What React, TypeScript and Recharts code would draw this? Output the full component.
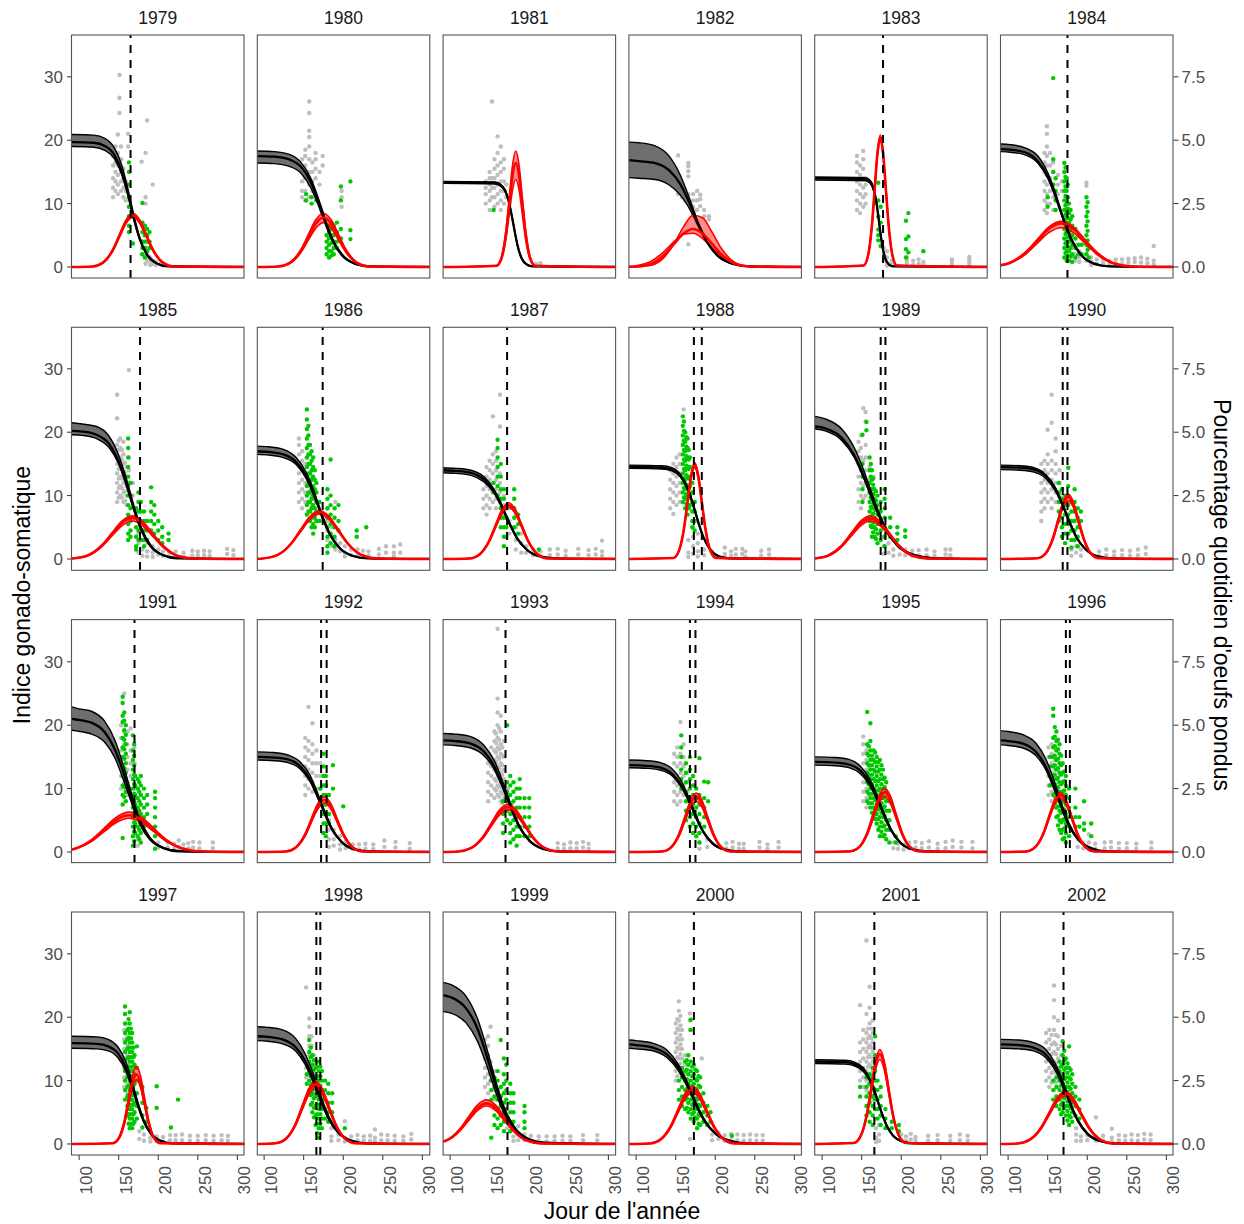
import React from 'react';
import { ComposedChart, XAxis, YAxis, Scatter, Line, Area, ReferenceLine } from 'recharts';

const FONT = "'Liberation Sans', Arial, Helvetica, sans-serif";

// ---------------- DATA ----------------
const years = ['1979','1980','1981','1982','1983','1984','1985','1986','1987','1988','1989','1990','1991','1992','1993','1994','1995','1996','1997','1998','1999','2000','2001','2002'];

const xTicks = [100, 150, 200, 250, 300];
const leftTicks = [0, 10, 20, 30];
const rightTicks = [0, 2.5, 5, 7.5];

// black curve (GSI): [day, lower, median, upper]
const blackBands: number[][][] = [
  [[91,19,19.7,20.9],[118.5,18.9,19.6,20.8],[132.5,18.4,19.1,20.3],[144.5,17.1,17.7,18.8],[153.8,14.6,15.1,16.1],[160.4,11.8,12.3,13],[165,9.5,9.9,10.5],[169.7,7.2,7.4,7.9],[176.2,4.4,4.6,4.8],[185.5,1.9,2,2.1],[197.6,0.6,0.6,0.6],[211.5,0.1,0.1,0.1],[309,0,0,0]],
  [[91,16.4,17.5,18.3],[113,16.3,17.4,18.2],[131,15.9,17,17.8],[146.6,14.8,15.8,16.5],[158.6,12.6,13.5,14.1],[167,10.2,10.9,11.4],[173,8.2,8.8,9.2],[179,6.2,6.6,6.9],[187.4,3.8,4,4.2],[199.4,1.6,1.8,1.8],[215,0.5,0.5,0.5],[233,0.1,0.1,0.1],[309,0,0,0]],
  [[91,13.2,13.4,13.5],[156,13.1,13.3,13.4],[163.2,12.8,13,13.1],[169.4,11.9,12.1,12.2],[174.2,10.2,10.3,10.4],[177.6,8.2,8.3,8.4],[180,6.6,6.7,6.8],[182.4,5,5.1,5.1],[185.8,3,3.1,3.1],[190.6,1.3,1.3,1.4],[196.8,0.4,0.4,0.4],[204,0.1,0.1,0.1],[309,0,0,0]],
  [[91,14.1,16.85,19.7],[103,14,16.7,19.6],[124,13.8,16.4,19.1],[142.2,12.9,15.2,17.4],[156.2,11.3,13,14.4],[166,9.5,10.5,11.3],[173,7.8,8.4,8.9],[180,6,6.4,6.5],[189.8,3.8,3.9,3.9],[203.8,1.7,1.7,1.6],[222,0.5,0.5,0.5],[243,0.1,0.1,0.1],[309,0,0,0]],
  [[91,13.7,14,14.2],[154.5,13.6,13.9,14.1],[159.8,13.3,13.6,13.8],[164.3,12.3,12.6,12.8],[167.8,10.5,10.8,10.9],[170.3,8.5,8.7,8.8],[172,6.9,7,7.1],[173.8,5.2,5.3,5.4],[176.2,3.2,3.2,3.3],[179.7,1.4,1.4,1.4],[184.3,0.4,0.4,0.4],[189.5,0.1,0.1,0.1],[309,0,0,0]],
  [[91,18.2,18.6,19.4],[102.5,18.1,18.5,19.3],[121.3,17.7,18.1,18.8],[137.5,16.4,16.7,17.5],[150,14,14.3,14.9],[158.8,11.3,11.6,12.1],[165,9.1,9.3,9.7],[171.3,6.9,7,7.3],[180,4.2,4.3,4.5],[192.5,1.8,1.9,1.9],[208.8,0.5,0.5,0.6],[227.5,0.1,0.1,0.1],[309,0,0,0]],
  [[91,19.6,20.2,21.5],[104,19.5,20.1,21.3],[122,19,19.6,20.9],[137.6,17.6,18.2,19.4],[149.6,15.1,15.5,16.5],[158,12.2,12.6,13.4],[164,9.8,10.1,10.8],[170,7.4,7.6,8.1],[178.4,4.5,4.7,5],[190.4,2,2,2.2],[206,0.6,0.6,0.6],[224,0.1,0.1,0.2],[309,0,0,0]],
  [[91,16.5,17,17.8],[105.5,16.4,16.9,17.7],[124.3,16,16.5,17.3],[140.5,14.9,15.3,16],[153,12.7,13.1,13.7],[161.8,10.3,10.6,11.1],[168,8.3,8.5,8.9],[174.3,6.2,6.4,6.7],[183,3.8,3.9,4.1],[195.5,1.7,1.7,1.8],[211.8,0.5,0.5,0.5],[230.5,0.1,0.1,0.1],[309,0,0,0]],
  [[91,13.6,14,14.4],[107.5,13.5,13.9,14.3],[126.3,13.2,13.6,14],[142.5,12.2,12.6,13],[155,10.5,10.8,11.1],[163.8,8.5,8.7,9],[170,6.8,7,7.2],[176.3,5.1,5.3,5.4],[185,3.1,3.2,3.3],[197.5,1.4,1.4,1.4],[213.8,0.4,0.4,0.4],[232.5,0.1,0.1,0.1],[309,0,0,0]],
  [[91,14.3,14.55,14.8],[132.5,14.2,14.4,14.7],[145.3,13.9,14.1,14.4],[156.3,12.9,13.1,13.3],[164.8,11,11.2,11.4],[170.8,8.9,9.1,9.2],[175,7.2,7.3,7.4],[179.3,5.4,5.5,5.6],[185.2,3.3,3.4,3.4],[193.7,1.4,1.5,1.5],[204.8,0.4,0.4,0.4],[217.5,0.1,0.1,0.1],[309,0,0,0]],
  [[91,20.5,20.9,22.5],[104,20.2,20.6,22.1],[124.8,18.7,19.1,20.5],[140.8,16,16.3,17.5],[152,12.9,13.2,14.2],[160,10.4,10.6,11.4],[168,7.9,8,8.6],[179.2,4.8,4.9,5.3],[195.2,2.1,2.1,2.3],[216,0.6,0.6,0.7],[240,0.1,0.1,0.2],[309,0,0,0]],
  [[91,14.1,14.5,14.8],[115.5,14,14.4,14.7],[132.8,13.7,14.1,14.4],[147.7,12.7,13.1,13.3],[159.2,10.8,11.2,11.4],[167.3,8.8,9,9.2],[173,7.1,7.3,7.4],[178.8,5.3,5.5,5.6],[186.8,3.3,3.3,3.4],[198.3,1.4,1.5,1.5],[213.3,0.4,0.4,0.4],[230.5,0.1,0.1,0.1],[309,0,0,0]],
  [[91,19.2,21,22.9],[96,19.1,20.9,22.7],[115.5,18.6,20.4,22.2],[132.4,17.3,18.9,20.6],[145.4,14.8,16.1,17.6],[154.5,11.9,13.1,14.2],[161,9.6,10.5,11.5],[167.5,7.3,7.9,8.7],[176.6,4.4,4.9,5.3],[189.6,1.9,2.1,2.3],[206.5,0.6,0.6,0.7],[226,0.1,0.1,0.2],[309,0,0,0]],
  [[91,14.5,15,15.8],[112,14.4,14.9,15.7],[130,14.1,14.6,15.3],[145.6,13.1,13.5,14.2],[157.6,11.2,11.5,12.2],[166,9,9.3,9.8],[172,7.3,7.5,7.9],[178,5.5,5.7,6],[186.4,3.3,3.5,3.6],[198.4,1.5,1.5,1.6],[214,0.4,0.4,0.5],[232,0.1,0.1,0.1],[309,0,0,0]],
  [[91,16.9,17.6,18.7],[106.5,16.8,17.5,18.6],[126,16.4,17.1,18.2],[142.9,15.2,15.8,16.8],[155.9,13,13.5,14.4],[165,10.5,10.9,11.6],[171.5,8.5,8.8,9.4],[178,6.4,6.7,7.1],[187.1,3.9,4.1,4.3],[200.1,1.7,1.8,1.9],[217,0.5,0.5,0.5],[236.5,0.1,0.1,0.1],[309,0,0,0]],
  [[91,13.3,13.7,14.5],[113.5,13.2,13.6,14.4],[130.8,12.9,13.3,14.1],[145.7,12,12.3,13.1],[157.2,10.2,10.5,11.2],[165.3,8.3,8.5,9],[171,6.7,6.9,7.3],[176.8,5,5.2,5.5],[184.8,3.1,3.2,3.3],[196.3,1.3,1.4,1.5],[211.3,0.4,0.4,0.4],[228.5,0.1,0.1,0.1],[309,0,0,0]],
  [[91,13.7,14.2,15],[116.5,13.6,14.1,14.9],[133.8,13.3,13.8,14.6],[148.7,12.3,12.8,13.5],[160.2,10.5,10.9,11.5],[168.3,8.5,8.8,9.3],[174,6.9,7.1,7.5],[179.8,5.2,5.4,5.7],[187.8,3.2,3.3,3.5],[199.3,1.4,1.4,1.5],[214.3,0.4,0.4,0.4],[231.5,0.1,0.1,0.1],[309,0,0,0]],
  [[91,16.9,17.6,19.1],[100,16.8,17.5,19],[118.8,16.4,17.1,18.5],[135,15.2,15.8,17.2],[147.5,13,13.5,14.7],[156.3,10.5,10.9,11.9],[162.5,8.5,8.8,9.6],[168.8,6.4,6.7,7.2],[177.5,3.9,4.1,4.4],[190,1.7,1.8,1.9],[206.3,0.5,0.5,0.6],[225,0.1,0.1,0.1],[309,0,0,0]],
  [[91,15.1,15.9,17],[122.5,15,15.8,16.9],[136.8,14.7,15.4,16.5],[149.1,13.6,14.3,15.3],[158.6,11.6,12.2,13.1],[165.3,9.4,9.9,10.6],[170,7.6,8,8.5],[174.8,5.7,6,6.4],[181.4,3.5,3.7,3.9],[190.9,1.5,1.6,1.7],[203.3,0.4,0.5,0.5],[217.5,0.1,0.1,0.1],[309,0,0,0]],
  [[91,16.3,17,18.5],[104.5,16.2,16.9,18.4],[123.3,15.8,16.5,18],[139.5,14.7,15.3,16.7],[152,12.5,13.1,14.2],[160.8,10.1,10.6,11.5],[167,8.2,8.5,9.3],[173.3,6.2,6.4,7],[182,3.8,3.9,4.3],[194.5,1.6,1.7,1.9],[210.8,0.5,0.5,0.5],[229.5,0.1,0.1,0.1],[309,0,0,0]],
  [[91,20.9,23.5,25.5],[102,20.6,23.1,25.1],[120.2,19.1,21.4,23.3],[134.2,16.3,18.3,19.9],[144,13.2,14.8,16.1],[151,10.6,11.9,13],[158,8,9,9.8],[167.8,4.9,5.5,6],[181.8,2.1,2.4,2.6],[200,0.6,0.7,0.8],[221,0.1,0.2,0.2],[309,0,0,0]],
  [[91,15.1,15.7,16.4],[100,15,15.6,16.3],[121,14.7,15.2,15.9],[139.2,13.6,14.1,14.8],[153.2,11.6,12.1,12.6],[163,9.4,9.8,10.2],[170,7.6,7.9,8.2],[177,5.7,5.9,6.2],[186.8,3.5,3.6,3.8],[200.8,1.5,1.6,1.6],[219,0.4,0.5,0.5],[240,0.1,0.1,0.1],[309,0,0,0]],
  [[91,12.7,13,13.3],[128.5,12.6,12.9,13.2],[141.3,12.3,12.6,12.9],[152.3,11.4,11.7,12],[160.8,9.8,10,10.2],[166.8,7.9,8.1,8.3],[171,6.4,6.5,6.7],[175.3,4.8,4.9,5],[181.2,2.9,3,3.1],[189.7,1.3,1.3,1.3],[200.8,0.4,0.4,0.4],[213.5,0.1,0.1,0.1],[309,0,0,0]],
  [[91,15.1,15.7,16.5],[114,15,15.6,16.4],[132,14.7,15.2,16],[147.6,13.6,14.1,14.9],[159.6,11.6,12.1,12.7],[168,9.4,9.8,10.3],[174,7.6,7.9,8.3],[180,5.7,5.9,6.2],[188.4,3.5,3.6,3.8],[200.4,1.5,1.6,1.7],[216,0.4,0.5,0.5],[234,0.1,0.1,0.1],[309,0,0,0]],
];

// red curve (daily % of eggs laid, right axis): [day, lower, median, upper]
const redBands: number[][][] = [
  [[91,0,0,0],[117,.02,.02,.02],[130.6,.17,.18,.19],[142.5,.63,.66,.69],[151,1.18,1.23,1.29],[159.5,1.72,1.79,1.87],[168,1.95,2.03,2.12],[176.5,1.72,1.79,1.87],[185,1.18,1.23,1.29],[193.5,.63,.66,.69],[205.4,.17,.18,.19],[219,.02,.02,.02],[309,0,0,0]],
  [[91,0,0,0],[118,.02,.02,.02],[133.2,.16,.17,.19],[146.5,.57,.63,.69],[156,1.06,1.18,1.29],[165.5,1.54,1.72,1.87],[175,1.75,1.95,2.12],[184.5,1.54,1.72,1.87],[194,1.06,1.18,1.29],[203.5,.57,.63,.69],[216.8,.16,.17,.19],[232,.02,.02,.02],[309,0,0,0]],
  [[91,0,0,0],[158.4,.04,.05,.05],[165,.31,.36,.41],[170.7,1.12,1.33,1.49],[174.8,2.09,2.49,2.77],[178.9,3.04,3.62,4.03],[183,3.45,4.1,4.57],[187.1,3.04,3.62,4.03],[191.2,2.09,2.49,2.77],[195.3,1.12,1.33,1.49],[201,.31,.36,.41],[207.6,.04,.05,.05],[309,0,0,0]],
  [[91,.02,.01,0],[100,.05,.02,.01],[119.2,.23,.13,.07],[136,.63,.49,.4],[148,1,.91,.92],[160,1.29,1.32,1.59],[172,1.33,1.5,2.04],[184,1.12,1.32,1.94],[196,.76,.91,1.37],[208,.41,.49,.72],[224.8,.12,.13,.18],[244,.02,.02,.02],[309,0,0,0]],
  [[91,0,0,0],[152.5,.06,.06,.06],[158.1,.45,.45,.46],[163,1.63,1.66,1.69],[166.5,3.04,3.1,3.16],[170,4.41,4.5,4.59],[173.5,5,5.1,5.2],[177,4.41,4.5,4.59],[180.5,3.04,3.1,3.16],[184,1.63,1.66,1.69],[188.9,.45,.45,.46],[194.5,.06,.06,.06],[309,0,0,0]],
  [[91,.06,.07,.07],[101,.14,.15,.16],[122,.5,.56,.59],[137,.94,1.04,1.09],[152,1.37,1.52,1.59],[167,1.55,1.72,1.8],[182,1.37,1.52,1.59],[197,.94,1.04,1.09],[212,.5,.56,.59],[233,.14,.15,.16],[257,.02,.02,.02],[309,0,0,0]],
  [[91,.02,.02,.02],[110.9,.13,.14,.15],[128.8,.49,.53,.55],[141.5,.91,.98,1.03],[154.3,1.32,1.43,1.5],[167,1.5,1.62,1.7],[179.8,1.32,1.43,1.5],[192.5,.91,.98,1.03],[205.3,.49,.53,.55],[223.1,.13,.14,.15],[243.5,.02,.02,.02],[309,0,0,0]],
  [[91,.01,.01,.01],[98,.02,.02,.02],[117.2,.16,.16,.17],[134,.58,.6,.62],[146,1.07,1.12,1.15],[158,1.56,1.63,1.68],[170,1.77,1.85,1.9],[182,1.56,1.63,1.68],[194,1.07,1.12,1.15],[206,.58,.6,.62],[222.8,.16,.16,.17],[242,.02,.02,.02],[309,0,0,0]],
  [[91,0,0,0],[124.2,.02,.02,.02],[137.5,.18,.19,.2],[149.1,.66,.69,.72],[157.4,1.23,1.29,1.35],[165.7,1.79,1.87,1.96],[174,2.03,2.12,2.22],[182.3,1.79,1.87,1.96],[190.6,1.23,1.29,1.35],[198.9,.66,.69,.72],[210.5,.18,.19,.2],[223.8,.02,.02,.02],[309,0,0,0]],
  [[91,0,0,0],[147,.04,.04,.04],[154.2,.32,.33,.34],[160.5,1.17,1.2,1.24],[165,2.19,2.25,2.31],[169.5,3.18,3.26,3.35],[174,3.6,3.7,3.8],[178.5,3.18,3.26,3.35],[183,2.19,2.25,2.31],[187.5,1.17,1.2,1.24],[193.8,.32,.33,.34],[201,.04,.04,.04],[309,0,0,0]],
  [[91,.02,.02,.02],[108.2,.13,.14,.15],[125,.49,.52,.55],[137,.91,.97,1.03],[149,1.32,1.41,1.5],[161,1.5,1.6,1.7],[173,1.32,1.41,1.5],[185,.91,.97,1.03],[197,.49,.52,.55],[213.8,.13,.14,.15],[233,.02,.02,.02],[309,0,0,0]],
  [[91,0,0,0],[137,.03,.03,.03],[147.4,.2,.22,.23],[156.5,.75,.8,.83],[163,1.4,1.49,1.55],[169.5,2.03,2.16,2.25],[176,2.3,2.45,2.55],[182.5,2.03,2.16,2.25],[189,1.4,1.49,1.55],[195.5,.75,.8,.83],[204.6,.2,.22,.23],[215,.03,.03,.03],[309,0,0,0]],
  [[91,.09,.1,.11],[94.8,.12,.13,.14],[116.5,.43,.47,.51],[132,.81,.88,.95],[147.5,1.17,1.28,1.38],[163,1.33,1.45,1.57],[178.5,1.17,1.28,1.38],[194,.81,.88,.95],[209.5,.43,.47,.51],[231.2,.12,.13,.14],[256,.01,.02,.02],[309,0,0,0]],
  [[91,0,0,0],[127.1,.02,.02,.02],[140.1,.17,.18,.19],[151.6,.62,.67,.71],[159.7,1.17,1.24,1.32],[167.9,1.69,1.81,1.92],[176,1.92,2.05,2.18],[184.2,1.69,1.81,1.92],[192.3,1.17,1.24,1.32],[200.5,.62,.67,.71],[211.9,.17,.18,.19],[224.9,.02,.02,.02],[309,0,0,0]],
  [[91,0,0,0],[110,.02,.02,.02],[126.8,.15,.16,.17],[141.5,.54,.58,.61],[152,1.01,1.08,1.14],[162.5,1.46,1.57,1.66],[173,1.66,1.78,1.88],[183.5,1.46,1.57,1.66],[194,1.01,1.08,1.14],[204.5,.54,.58,.61],[219.2,.15,.16,.17],[236,.02,.02,.02],[309,0,0,0]],
  [[91,0,0,0],[133.1,.02,.02,.03],[144.5,.18,.19,.21],[154.6,.65,.71,.75],[161.7,1.21,1.32,1.41],[168.9,1.76,1.92,2.05],[176,2,2.18,2.32],[183.2,1.76,1.92,2.05],[190.3,1.21,1.32,1.41],[197.5,.65,.71,.75],[207.5,.18,.19,.21],[218.9,.02,.02,.03],[309,0,0,0]],
  [[91,0,0,0],[135.8,.02,.03,.03],[147.3,.19,.21,.22],[157.4,.71,.76,.82],[164.6,1.32,1.43,1.52],[171.8,1.92,2.07,2.21],[179,2.18,2.35,2.51],[186.2,1.92,2.07,2.21],[193.4,1.32,1.43,1.52],[200.6,.71,.76,.82],[210.7,.19,.21,.22],[222.2,.02,.03,.03],[309,0,0,0]],
  [[91,0,0,0],[123.1,.02,.02,.03],[134.5,.19,.2,.21],[144.6,.69,.73,.76],[151.7,1.29,1.37,1.43],[158.9,1.87,1.98,2.07],[166,2.12,2.25,2.35],[173.2,1.87,1.98,2.07],[180.3,1.29,1.37,1.43],[187.5,.69,.73,.76],[197.5,.19,.2,.21],[208.9,.02,.02,.03],[309,0,0,0]],
  [[91,0,0,0],[142.5,.03,.03,.03],[150.5,.23,.24,.27],[157.5,.83,.89,.99],[162.5,1.54,1.66,1.86],[167.5,2.24,2.42,2.7],[172.5,2.54,2.74,3.06],[177.5,2.24,2.42,2.7],[182.5,1.54,1.66,1.86],[187.5,.83,.89,.99],[194.5,.23,.24,.27],[202.5,.03,.03,.03],[309,0,0,0]],
  [[91,0,0,0],[114,.02,.03,.03],[127.6,.2,.21,.22],[139.5,.72,.76,.8],[148,1.34,1.43,1.5],[156.5,1.94,2.07,2.18],[165,2.2,2.35,2.47],[173.5,1.94,2.07,2.18],[182,1.34,1.43,1.5],[190.5,.72,.76,.8],[202.4,.2,.21,.22],[216,.02,.03,.03],[309,0,0,0]],
  [[91,.09,.09,.1],[95.4,.13,.14,.15],[111.5,.49,.52,.57],[123,.91,.97,1.06],[134.5,1.32,1.41,1.53],[146,1.5,1.6,1.74],[157.5,1.32,1.41,1.53],[169,.91,.97,1.06],[180.5,.49,.52,.57],[196.6,.13,.14,.15],[215,.02,.02,.02],[309,0,0,0]],
  [[91,0,0,0],[117,.02,.02,.03],[131.4,.18,.19,.2],[144,.66,.7,.74],[153,1.23,1.31,1.38],[162,1.78,1.9,2.01],[171,2.02,2.15,2.28],[180,1.78,1.9,2.01],[189,1.23,1.31,1.38],[198,.66,.7,.74],[210.6,.18,.19,.2],[225,.02,.02,.03],[309,0,0,0]],
  [[91,0,0,0],[140,.04,.04,.04],[148.8,.3,.32,.33],[156.5,1.08,1.15,1.21],[162,2.02,2.15,2.26],[167.5,2.93,3.13,3.28],[173,3.32,3.55,3.72],[178.5,2.93,3.13,3.28],[184,2.02,2.15,2.26],[189.5,1.08,1.15,1.21],[197.2,.3,.32,.33],[206,.04,.04,.04],[309,0,0,0]],
  [[91,0,0,0],[112,.02,.02,.02],[128,.17,.18,.19],[142,.61,.65,.68],[152,1.14,1.21,1.26],[162,1.66,1.76,1.83],[172,1.88,2,2.08],[182,1.66,1.76,1.83],[192,1.14,1.21,1.26],[202,.61,.65,.68],[216,.17,.18,.19],[232,.02,.02,.02],[309,0,0,0]],
];

// gray observations: each entry [day, gsi values...]
const grayObs: number[][][] = [
  [[143,11,12.5,14,16,17.5],[146,12,13.5,15,16.5,19],[149,11.5,13,14.5,16,18,20.9],[151,24.3,26.7,30.3],[153,12,13.5,15,17,19],[156,11,12.5,14,15.5],[159,10.5,12,13.5],[162,19,21],[179,16.6,4,2],[184,18,11,10,3,1.5,0.5],[186,23.1,2,1],[190,1.5,0.8,0.3],[193,13,1,0.5],[197,0.8,0.3],[203,0.5]],
  [[148,11,12,13.5,15,17],[152,10.5,12,14,16,17.5,18.5],[157,11,13,15,17,19,20.5,21.5,24.3,26.1],[161,12,13.5,15,16.5],[165,14,15.5,17,18],[170,13,15],[174,16,17.5],[198,9.5,11,12]],
  [[145,10,11.5,12.5,13.5],[150,9,10.5,12,13,14,15],[153,11,12.5,14,26.1],[156,9.5,11,12.5,14,15.5,17],[160,10,11.5,13,14.5,16,18,20.6],[164,9,10.5,12,13.5,15,16.5,19],[168,10,12,13.5,15.5,17],[171,11,13],[208,0.5,0.2],[214,0.6,0.3]],
  [[153,17.6,12.5,11.5],[158,11,12,13],[162,10.5,12.2],[166,16.4,15.9,15.1,14.3,11.5,10.5,3.6],[172,11.5,9.5,10.5],[177,12,10.5,9],[181,11.4,10.7,9.6],[186,9,8],[192,8,7.5]],
  [[144,9,10.5,12,13.5,15,16.5,17.5],[148,8.5,10,11.5,13,14.5,16],[152,9.5,11,12.5,14,15.5,17,18.3],[155,10,11.5,13,14],[178,1,2,3],[182,0.5,1.5,2.5,0.2],[188,0.5,1],[207,0.5,1,1.5],[215,0.3,1],[222,0.5,1.2],[228,0.3,0.8],[264,0.3,0.8,1.2],[286,0.2,0.7,1.2,1.6]],
  [[146,9,10.5,12,13.5,15,16.5,18],[149,8.5,10,11.5,13,14.5,16,17.5,19,21,22.2],[153,10,12,14,16,18],[157,9,11,13,15,16.5],[163,11.5,13,14.5],[168,12,13.5],[174,11,12.5,14],[180,5,3,1.5],[185,3.5,2,1],[190,2.5,1.5,0.8],[199,13.3,12.8,2,1],[205,1.5,0.8,0.3],[212,1.2,0.5],[220,1.2,0.6],[228,1,0.4],[236,1.2,0.6],[244,1.2,0.5],[252,1.3,0.7],[260,1.4,0.8],[268,1.5,0.7],[276,1.3,0.6],[284,3.3,1,0.4]],
  [[148,9,10.5,12,13.5,15,16.5,18,22.2,25.9],[150,9.7,11.2,12.7,14.2,15.7,17.2,18.7],[152,10,11.5,13,14.5,16,17.5,19],[154,9.7,11.2,12.7,14.2,15.7,17.2],[156,9,10.5,12,13.5,15,16.5,18.5],[158,9.2,10.7,12.2,13.7,15.2],[160,8.5,10,11.5,13,14.5],[163,12,14,16,29.8],[168,10,12],[175,4,2.5,1],[180,3,1.5,0.5],[186,2.5,1.2,0.4],[193,2,1,0.3],[200,1.5,0.7],[206,1.2,0.5],[214,1,0.4],[222,1.2,0.5],[232,1,0.4],[243,1.3,0.5],[250,1.2,0.6],[258,1.3,0.6],[265,1.2,0.5],[287,1.6,0.8],[295,1.4,0.6]],
  [[144,9,10.5,12,13.5,15,16.5,18,19],[148,8,9.5,11,12.5,14,15.5,17],[152,9,10.5,12,13.5,15],[160,8.5,10,11.5,13],[166,9,10.5],[180,8,6,4.5,3],[186,5,3.5,2],[190,9,3,1.5],[196,2.5,1.2],[202,2,1,0.4],[210,1.5,0.6],[218,1.5,0.5],[225,1.3,0.5],[232,1.2,0.5],[245,1.6,0.7],[254,2,1],[264,2,1,0.4],[272,2.3,1]],
  [[142,8,9.5,11,12.5],[146,7,8.5,10,11.5,13,14.5],[150,8,9.5,11,12.5,14,15.5],[154,9,10.5,12,13.5,15,16.5,22.5],[158,8,9.5,11,12.5,14,15.5,17],[163,9,10.5,12,13.5,20.9,25.9],[168,7,8.5,10],[175,8,6,4],[183,7,5,3,1.5],[190,4,2.5,1],[196,2,1],[205,1.5,0.6],[214,1.2,0.5],[226,1.5,0.6],[236,1.6,0.7],[246,1.3,0.5],[262,1.6,0.7],[275,1.4,0.6],[284,1.6,0.7],[292,2.9,1.2,0.5]],
  [[143,8,9.5,11,12.5,14],[147,7.1,9,10.5,12,13.5,15],[151,8.5,10,11.5,13,14.5,16],[155,9,10.5,12,13.5,15,16.5],[160,23.6,18.5],[166,1,0.3,3],[172,5,3.5,2,0.8],[178,4,2.5,1.2,0.4],[186,1.5,0.6],[212,1.8,0.8,0.3],[220,1.2,0.5],[226,1.6,0.7],[234,1.6,0.8],[238,1.2,0.4],[258,1.3,0.5],[268,1.5,0.7]],
  [[146,9,11,13,15,17,18.5],[149,8,10,12,14,16,17.5,19.5],[152,9.5,11.5,13.5,15.5,23.8],[155,10,12,14,16,18,21.7,23.2],[160,10.5,12.5,14.5],[165,11,13],[178,5,3.5,2,0.8],[184,4,2.5,1],[190,3,1.5,0.5],[198,1.8,0.7],[205,1.5,0.6],[214,1.3,0.5],[222,1.4,0.6],[232,1.5,0.6],[242,1.2,0.5],[256,1.5,0.7],[262,1.5,0.6]],
  [[142,6,7.5,9,10.5,12,13.5,15],[146,8,9.5,11,12.5,14,15.5],[150,9,10.5,12,13.5,15,16.5,20.4],[155,8,9.5,11,12.5,14,15.5,21.5,25.9],[160,9,10.5,12,13.5,15,17,19],[165,10,12,14],[180,3,1.5,0.5],[186,2,1],[192,1.5,0.5],[215,1.2,0.5],[224,1.5,0.6],[234,1.2,0.5],[244,1.4,0.6],[254,1.3,0.5],[264,1.5,0.6],[274,1.8,0.8]],
  [[153,10,12,14,16,18,20],[157,11,13,15,17,19,25],[161,9,11,13,15,17,19],[165,10,12,14,16,19.5],[170,8,10,12,14,16.5],[174,2,1],[200,1.5,0.7],[212,1.5,0.7],[220,1.3,0.5],[226,1.8,0.8,0.3],[232,1.2,0.5],[238,1.4,0.6],[244,1.6,0.7],[252,1.5,0.6],[269,1.5,0.6]],
  [[152,9,10.5,12,13.5,15,16.5,18],[156,10,11.5,13,14.5,16,17.5,22.9],[161,9.5,11,12.5,14,15.5,17,20.3],[166,10,12,14,16],[171,8,10,12,14],[182,5,3.5,2,0.8],[188,3.5,2,1],[196,2.5,1.2,0.4],[203,1.6,0.6],[212,1.2,0.5],[220,1.2,0.4],[228,1.3,0.5],[238,1.2,0.5],[252,1.8,0.8],[266,1.6,0.7],[284,1.4,0.5]],
  [[148,8,9.5,11,12.5,14],[152,9,10.5,12,13.5,15,16.5],[156,8.5,10,11.5,13,14.5,16,17.5,19],[158,9.7,11.2,12.7,14.2,15.7,17.2,18.7],[160,9,10.5,12,13.5,15,16.5,18,20,22,24.2,35.2],[162,8.7,10.2,11.7,13.2,14.7,16.2,17.7,19.5],[164,8,9.5,11,12.5,14,15.5,17,19,21.5],[166,7.7,9.2,10.7,12.2,13.7,15.2,16.5],[168,7,8.5,10,11.5,13,15,17.5],[173,7,8.5,10],[178,6,7.5],[236,1.4,0.6],[244,1.2,0.5],[252,1.5,0.6],[260,1.4,0.6],[268,1.6,0.7],[275,1.3,0.5]],
  [[148,8,9.5,11,12.5,14,15.5],[152,7.5,9,10.5,12,13.5,15,16.5],[156,8,9.5,11,12.5,14,15.5,20.5],[160,9,10.5,12,13.5,15,17],[165,8,9.5,11,12.5],[170,6,7.5],[180,3,1.5,0.5],[190,2,0.8],[214,1.4,0.6],[222,1.6,0.7],[230,1.3,0.5],[236,1.3,0.5],[256,1.6,0.7],[266,1.2,0.5],[280,1.6,0.7]],
  [[152,8,9.5,11,12.5,14,15.5,17,18.2],[156,7,8.5,10,11.5,13,14.5,16],[160,9,10.5,12,13.5],[166,10,11.5],[190,1.5,0.6],[196,1.3,0.5],[203,1.2,0.4],[210,1.5,0.6],[218,1.6,0.7],[226,1.4,0.6],[235,1.7,0.7],[246,1.3,0.5],[256,1.6,0.6],[265,1.8,0.8],[276,1.6,0.7],[290,1.6,0.6]],
  [[151,9,10.5,12,13.5,15,16.5],[155,8,9.5,11,12.5,14,15.5,17],[159,7,8.5,10,11.5,13,14.5],[164,8,9.5,11],[170,5,6.5],[188,2,0.8],[195,1.5,0.6],[202,2.8,1.5,0.6],[210,1.3,0.5],[222,1.5,0.6],[230,1.6,0.7],[240,1.4,0.5],[250,1.4,0.6],[262,1.3,0.5],[281,1.5,0.6]],
  [[157,9,10.5,12,13.5,15,16.5,18],[161,8,9.5,11,12.5,14,15.5,17,19],[165,7,8.5,10,11.5,13],[170,8,9.5,11],[176,2,0.8],[182,1.5,0.5],[190,1,0.4],[198,1.2,0.5],[206,1.1,0.4],[215,1.4,0.6],[222,1.4,0.6],[230,1.5,0.6],[240,1.3,0.5],[250,1.3,0.5],[260,1.4,0.6],[270,1.3,0.5],[280,1.4,0.6],[288,1.3,0.5]],
  [[153,24.7,12,10.5],[157,19.8,18.5,17,15.5,14,12.5,11,9.5],[160,17,15.5,14,12.5,11,9.5,8],[163,14,12.5,11,9.5,8],[168,10,8.5],[185,2.5,1.2,0.5],[194,1.5,0.6],[202,3.6,1,0.4],[210,1.2,0.5],[218,1.4,0.6],[226,1.2,0.5],[234,1.3,0.5],[240,2.3,1,0.4],[248,1.5,0.6],[256,1.4,0.6],[265,1.3,0.5],[276,1.2,0.5],[286,1.6,0.7]],
  [[144,9,10.5,12,13.5,15,16.5],[148,8,9.5,11,12.5,14,15.5,17],[151,10,11.5,13,18.5],[156,7,8.5,10,11.5],[164,6,7.5,9],[172,4,2.5],[180,2.5,1.2,0.5],[186,2.8,1.5,0.6],[194,1.5,0.6],[202,1.3,0.5],[212,1.2,0.5],[222,1.2,0.4],[232,1.2,0.5],[242,1.3,0.5],[252,1.2,0.5],[268,1.4,0.6],[286,1.4,0.6]],
  [[150,10,11.5,13,14.5,16,17.5,19],[152,10.7,12.2,13.7,15.2,16.7,18.2,19.7],[154,12,13.5,15,16.5,18,19.5,21,22.5],[156,11.2,12.7,14.2,15.7,17.2,18.7,20.2],[158,10.5,12,13.5,15,16.5,18],[162,11,12.5,14],[168,18,19.5,20.6,0.8],[183,13.5],[196,1.5,0.6],[204,1.8,0.8],[212,1.4,0.5],[220,1.6,0.6],[228,1.5,0.6],[236,1.4,0.5],[244,1.5,0.6],[252,1.4,0.5],[260,1.4,0.5]],
  [[148,21.9,16,14.5,13,11.5,10],[152,9,10.5,12,13.5,15,16.5,18],[156,8.5,10,11.5,13,14.5,16,17.5,20.5,32.1],[158,9.2,10.7,12.2,13.7,15.2,16.7,18.2],[160,8,9.5,11,12.5,14,15.5,17,19,21.5,24.8],[162,7.7,9.2,10.7,12.2,13.7,15.2,16.7,18.2],[164,7,8.5,10,11.5,13,14.5,16,17.5,19.5],[168,4,2.5,1,0.3],[172,3,1.5,0.5],[200,1.5,0.6],[206,1.2,0.5],[212,1.6,0.7],[218,1.1,0.5],[234,1.3,0.5],[246,1.4,0.6],[262,1.3,0.5],[274,1.5,0.6],[284,1.3,0.5]],
  [[148,10,11.5,13,14.5,16,17.5],[152,9,10.5,12,13.5,15,16.5,18],[155,9.7,11.2,12.7,14.2,15.7,17.2],[158,8.5,10,11.5,13,14.5,16,18,20,22.7,25],[160.5,9.7,11.2,12.7,14.2,15.7,17.2],[163,9,10.5,12,13.5,15,17,19.5],[167,11,12.5,14,15.5],[186,1.5,0.5,2.5],[192,1.2,0.5],[200,1.4,0.6],[211,4.2,1.2,0.5],[220,1.3,0.5],[231,2.4,1,0.4],[240,1.4,0.6],[248,1.3,0.5],[256,1.5,0.6],[264,1.4,0.5],[272,1.6,0.7],[280,1.5,0.6]],
];

// green observations: each entry [day, gsi values...]
const greenObs: number[][][] = [
  [[163,16.5,15,13,11,9.5,8,6.5,5.5],[168,3.7],[180,10.1,7,5.5,4,3,2],[183,6.5,5,4,3,1.5],[186,6,5,4,2.5],[189,5.5,4,3]],
  [[153,11.5,10.5],[160,10,11],[166,10.5],[179,5,4,3,2],[182,6.5,5.5,4.5,3.5,2.5,1.5],[185,7,6,5,3.8,2.5,1.8],[188,6.5,5,4,3,2],[192,7,5.5,4,3],[197,10.5,12.7,6,4.5],[209,13.5,5.8,4.4]],
  [[155,9]],
  [],
  [[171,13.3,10.5,8,5.9,5,4.2],[174,9.5,7,3.3],[206,7.3,4.4,2.8,1.5],[209,8.5,4.8,2.3],[228,2.5]],
  [[150,9.5,11],[157,29.8,13,15,17],[160,9,10.5,12,14],[171,16.4,15,13.5,12,10.5,9,7.5,6,4.5,3,1.5],[172.5,15.7,14.2,12.7,11.2,9.7,8.2,6.7,5.2,3.7,2.2],[174,14,12,10,8.5,7,5.5,4,2.5,1],[175.5,13,11,9.2,7.7,6.2,4.7,3.2,1.8],[177,10,8.5,7,5.5,4,2.5,1],[179,9,7.5,6,4.5,3,1.7],[181,8,6.5,5,3.5,2,0.8],[185,6,4.5,3,1.5],[189,5,3.5,2],[193,3.5,2],[199,11,9.5,8,6.5,5,3.5,2],[200.5,10.2,8.7,7.2,5.7,4.2,2.7],[202,3,1.5]],
  [[162,19,17.5,16,14.5,13,11.5,10,8.5,7,5.5,4,3],[165,12,10,8,6,4.5,3.5],[172,8,6.5,5,3.5,2,1.5],[175,10.5,9,7.5,6,4.5,3],[178,9,7.5,6,4.5,3],[182,7.5,6,4.5,3,2],[186,6,4.5,3],[191,11.3,9,7.5,6,4.5],[195,8.5,7,5.5,4],[200,6,4.5,3],[205,5,3.5,2.5],[213,4,3]],
  [[154,23.6,22,20.5,19,17.5,16,14.5,13,11.5,10,8.5,7],[156,21,19.5,18,16.5,15,13.5,12,10.5,9,7.5],[158,18,16.5,15,13.5,12,10.5,9,7.5,6],[160,17,15.5,14,12.5,11,9.5,8,6.5,5],[162,16,14.5,13,11.5,10,8.5,7,5.5,4],[164,14,12.5,11,9.5,8,6.5,5],[166,12,10.5,9,7.5,6],[170,9,7.5,6],[180,11,9.5,8,6.5,5,3.5,2,1],[184,15.7,10,8.5,7,5.5,4,2.5],[189,8,6.5,5,3.5,2],[194,8.5,6,4.5],[217,4.5,3.5],[229,5]],
  [[155,12,10.5],[160,18.8,17.5,16,14.5,13,11.5,10],[164,15,13,11,9.5,8,6.5,5],[168,11,9.5,8,6.5,5,3.5,2],[171,8,6.5,5,3.5],[181,11,9.5,8,6.5,5],[186,7,5.5,4],[212,1.5]],
  [[159,22.5,21,19.5,18,16.5,15,13.5,12,10.5,9],[160.5,21.7,20.2,18.7,17.2,15.7,14.2,12.7,11.2,9.7],[162,20,18.5,17,15.5,14,12.5,11,9.5,8],[163.5,19.2,17.7,16.2,14.7,13.2,11.7,10.2,8.7],[165,19,17.5,16,14.5,13,11.5,10,8.5,7],[166.5,17.2,15.7,14.2,12.7,11.2,9.7,8],[168,16,14.5,13,11.5,10,8.5],[171,12,10.5,9,7.5,6,5],[174,9,7.5,6,4.5]],
  [[151,19.6,15,13,11,9],[156,21.6,20.3],[160,16,14,12,10.5,9,7.5,6],[161.5,15,13,11,9.7,8.2,6.7,5.2],[163,14,12.5,11,9.5,8,6.5,5,3.5],[164.5,12.7,11.7,10.2,8.7,7.2,5.7,4.2],[166,11,9.5,8,6.5,5,3.5],[168,10.7,9.2,7.7,6.2,4.7,3.2],[170,10,8.5,7,5.5,4,2.5],[174,9,7.5,6,4.5,3],[179,11,9.5,8,6.5,5,3.5,2],[186,6.5,5,3.5],[195,5,4,3],[205,4.5,3.5]],
  [[164,12,10.5,9,7.5,6],[168,11,9.5,8,6.5,5,3.5],[172,10,8.5,7,5.5,4,2.5],[176,14.4,11.5,10,8.5,7,5.5,4],[180,9,7.5,6,4.5,3,1.8],[184,11,9,7.5,6,4.5,3],[188,8,6.5,5,3.5,2],[192,7.5,6]],
  [[155,24.5,23.5,21.5,20.5,18,16.5,15,13.5,12,10.5,9,7.5,2.2],[157,22,20.7,19.2,17.7,16.2,14.7,13.2,11.7,10.2,8.7],[159,20,18.5,17,15.5,14,12.5,11,9.5,8],[168,18.4,16,14.5,13,11.5,10,8.5,7,5.5,4,2.5,1],[169.5,17,15.2,13.7,12.2,10.7,9.2,7.7,6.2,4.7,3.2,1.7],[171,12,10.5,9,7.5,6,4.5,3],[174,11.5,10,8.5,7,5.5,4,2.5],[176,11,9.5,8,6.5,5,3.5,2],[178,12,10.5,9,7.5,6,4.5,3,1.5],[182,10,8.5,7,5.5,4],[186,9,7.5,6],[196,9.5,8.5,7,5.5,4,2.5,0.5]],
  [[171,10,8.5],[175,15.5,13.5,12,10.5,9,7.5,6,4.5,3],[178,12,10.5,9,7.5,6,4.5,2.5],[182,9,7.5,6,4.5],[187,13.7,10],[200,7.2]],
  [[167,8,6,4.5,3],[172,20,11,9.5,8,6.5,5],[176,12,10.5,9,7.5,6,4.5,3,1.5],[180,11,9.5,8,6.5,5,3.5,2],[184,10,8.5,7,5.5,4,2.5,1],[188,11.5,10,8.5,7,5.5,4,2.5],[194,8.5,7,5.5,4,2.5],[200,8.5,7,5.5,4,2.5]],
  [[157,18.4,16.5,15,13,11.5,10],[163,14,12.5,11,9.5,8,6.5,5],[168,15,13,11.5,10,8.5,7,5.5,4],[172,12,10.5,9,7.5,6,4.5,3],[176,10,8.5,7,5.5,4,2.5],[180,14.8,9,7.5,6,4.5,3,1.5],[186,11.1,8.5,7,5.5,4],[191,11,8]],
  [[157,22.1,17,15.5,14,12.5,11,9.5,8],[159,16.7,15.2,13.7,12.2,10.7,9.2,7.7],[161,20.3,17.5,16,14.5,13,11.5,10,8.5,7],[163,15.2,13.7,12.2,10.7,9.2,7.7,6.2],[165,16,14.5,13,11.5,10,8.5,7,5.5],[167,15.7,14.2,12.7,11.2,9.7,8.2,6.7,5.2],[169,15,13.5,12,10.5,9,7.5,6,4.5],[171,14.2,12.7,11.2,9.7,8.2,6.7,5.2,3.5],[173,14.5,13,11.5,10,8.5,7,5.5,4,2.5],[175,13.7,12.2,10.7,9.2,7.7,6.2,4.7,3.2],[177,13,11.5,10,8.5,7,5.5,4,2.5],[179,11.7,10.2,8.7,7.2,5.7,4.2,2.7],[181,11,9.5,8,6.5,5,3.5,2],[185,8,6.5,5,3.5,1.5],[193,2.5,1.5]],
  [[153,15,13.5,12,10.5],[157,22.6,21.5,18,16.5,15,13.5,12,10.5,9],[159,19.7,18.2,16.7,15.2,13.7,12.2,10.7,9.2,7.7],[161,19,17.5,16,14.5,13,11.5,10,8.5,7,5.5],[163,17.7,16.2,14.7,13.2,11.7,10.2,8.7,7.2,5.7,4.2],[165,17,15.5,14,12.5,11,9.5,8,6.5,5,3.5],[167,15.2,13.7,12.2,10.7,9.2,7.7,6.2,4.7,3],[169,14,12.5,11,9.5,8,6.5,5,3.5,2],[171,12.7,11.2,9.7,8.2,6.7,5.2,3.7,2.2],[173,12,10.5,9,7.5,6,4.5,3,1.5],[177,10,8.5,7,5.5,4,2.5],[185,10,7,5.5,4],[190,5.5,4],[196,8,4.5,3.5],[205,4.5,2.5]],
  [[158,21.7,20.5,19,17.5,16,14.5,13,11.5,10,8.5,7],[161,18,16.5,15,13.5,12,10.5,9,7.5,6,4.5],[162.5,19.7,18.2,16.7,15.2,13.7,12.2,10.7,9.2,7.7,6.2,4.7,3.2],[164,20.8,19,17.5,16,14.5,13,11.5,10,8.5,7,5.5,4,2.5],[165.5,18.2,16.7,15.2,13.7,12.2,10.7,9.2,7.7,6.2,4.7,3.2],[167,17.5,16,14.5,13,11.5,10,8.5,7,5.5,4,2.5],[168.5,15.2,13.7,12.2,10.7,9.2,7.7,6.2,4.7,3.2],[170,14,12.5,11,9.5,8,6.5,5,3.5],[173,15.4,12,10,8,6,4],[180,9,6.5,4.5,2.6],[185,5.7,3.5],[198,9.1,5.7],[216,2.6],[225,7]],
  [[154,11,9.5],[157,16.4,14.5,13,11.5,10,8.5],[159,15.2,13.7,12.2,10.7,9.2,7.7,6.2],[161,14,12.5,11,9.5,8,6.5,5],[163,13.2,11.7,10.2,8.7,7.2,5.7,4.2],[165,12,10.5,9,7.5,6,4.5,3],[167,12.2,10.7,9.2,7.7,6.2,4.7,3.2,1.7],[169,13,11.5,10,8.5,7,5.5,4,2.5,1],[171,12.2,10.7,9.2,7.7,6.2,4.7,3.2],[173,11.5,10,8.5,7,5.5,4,2.5],[177,10,8.5,7,5.5,4],[181,9.5,8,6.5,5,3.5],[186,8,6.5,5],[202,2.5]],
  [[152,10,8.5,7,1],[156,10.5,9,7.5,6,4.5,3],[160,11.5,10,8.5,7,5.5,4,2.5],[164,16.4,9,7.5,6,4.5,3],[168,13.5,11,9.5,8,6.5,5,3.5,2],[171,12.5,10,8.5,7,5.5,4],[176,9.5,8,6.5,5,3.5,2],[180,8,6.5,5,3.5],[194,6,5,3.5,2.5]],
  [[154,10,8.5,7],[158,12,10.5,9,7.5,6],[162,13,11.5,10,8.5,7,5.5],[164,13.2,11.7,10.2,8.7,7.2,5.7],[166,14,12.5,11,9.5,8,6.5,5],[169,19.6,18,13,11.5,10,8.5,7,5.5,4],[171,12.2,10.7,9.2,7.7,6.2,4.7],[173,12.5,11,9.5,8,6.5,5,3.5],[175,11.7,10.2,8.7,7.2,5.7,4.2],[177,11.5,10,8.5,7,5.5,4,2.5],[179,10.7,9.2,7.7,6.2,4.7,3.2],[181,10.5,9,7.5,6,4.5,3],[185,8,6.5,5,3.5],[190,6,4.5,3],[194,5,3.5],[221,1.3]],
  [[148,9,7.5],[156,10.5,9,7.5,6,4.5],[160,11,9.5,8,6.5,5,3.5],[164,12,10.5,9,7.5,6,4.5,3],[167,17,14,11.5,10,8.5,7,5.5],[170,10,8.5,7,5.5,4],[174,9,7.5,6,4.5,3],[180,5.5,4,2.5],[188,3.5,2.5],[197,3,2]],
  [[157,10,8.5,7],[161,12,10.5,9,7.5,6],[165,13,11.5,10,8.5,7,5.5],[167,12.2,10.7,9.2,7.7,6.2,4.7],[169,16.2,14,12.5,11,9.5,8,6.5,5],[171,14.7,13.2,11.7,10.2,8.7,7.2,5.7],[173,13.5,12,10.5,9,7.5,6,4.5],[175,12.7,11.2,9.7,8.2,6.7,5.2,3.7],[177,15.4,12,10.5,9,7.5,6,4.5,3],[179,11.7,10.2,8.7,7.2,5.7,4.2],[181,11,9.5,8,6.5,5,3.5],[185,9,7.5,6,4.5],[190,7,5.5,4]],
];

// day(s) of the dashed vertical lines
const spawnDays: number[][] = [[165],[],[],[],[177],[175],[177],[174],[172],[173,183],[174,180],[169,175],[170],[172,179],[170],[168,175],[],[173,178],[],[166,171],[172.5],[173],[166],[170]];

// ---------------- LAYOUT ----------------
const PANEL_W = 172.5;
const PANEL_H = 243;
const COL_X = [71.5, 257.3, 443.1, 628.9, 814.7, 1000.5];
const ROW_Y = [35, 327.3, 619.6, 912];
const X_DOMAIN: [number, number] = [91, 309];
const L_DOMAIN: [number, number] = [-1.74, 36.6];
const R_DOMAIN: [number, number] = [-0.435, 9.15];

const toPoints = (cols: number[][]) => cols.flatMap(([x, ...ys]) => ys.map((y) => ({ x, y })));
const toBand = (rows: number[][]) => rows.map(([x, lo, mid, hi]) => ({ x, band: [lo, hi], mid }));

const grayDot = (p: any) => <circle cx={p.cx} cy={p.cy} r={2.2} fill="#bebebe" />;
const greenDot = (p: any) => <circle cx={p.cx} cy={p.cy} r={2.2} fill="#00c800" />;

const XTick = (props: any) => {
  const { x, y, payload } = props;
  const ax = x + 13;
  const ay = y + 4;
  return (
    <text x={ax} y={ay} transform={`rotate(-90, ${ax}, ${ay})`} textAnchor="end" fill="#4d4d4d" fontSize={17} fontFamily={FONT}>
      {payload.value}
    </text>
  );
};

function PanelLayer({ index, top }: { index: number; top: boolean }) {
  const col = index % 6;
  const row = Math.floor(index / 6);
  const showL = col === 0;
  const showR = col === 5;
  const showB = row === 3;
  const lw = showL ? 60 : 0;
  const rw = showR ? 60 : 0;
  const extra = showB && !showR ? 16 : 0;
  const bh = showB ? 50 : 0;
  const w = PANEL_W + lw + rw + extra;
  const h = PANEL_H + bh;
  const tickStyle = { fill: '#4d4d4d', fontSize: 17, fontFamily: FONT };
  const tl = top ? false : { stroke: '#333333', strokeWidth: 1 };
  return (
    <div style={{ position: 'absolute', left: COL_X[col] - lw, top: ROW_Y[row], width: w, height: h }}>
      <ComposedChart width={w} height={h} margin={{ top: 0, right: extra, bottom: 0, left: 0 }}>
        <XAxis
          type="number"
          dataKey="x"
          domain={X_DOMAIN}
          allowDataOverflow
          ticks={xTicks}
          interval={0}
          hide={!showB}
          height={bh}
          tickSize={5}
          tickLine={tl}
          axisLine={false}
          tick={top ? false : <XTick />}
        />
        <YAxis
          yAxisId="l"
          type="number"
          domain={L_DOMAIN}
          allowDataOverflow
          ticks={leftTicks}
          interval={0}
          hide={!showL}
          width={60}
          tickSize={5}
          tickMargin={4}
          tickLine={tl}
          axisLine={false}
          tick={top ? false : tickStyle}
        />
        <YAxis
          yAxisId="r"
          orientation="right"
          type="number"
          domain={R_DOMAIN}
          allowDataOverflow
          ticks={rightTicks}
          interval={0}
          hide={!showR}
          width={60}
          tickSize={5}
          tickMargin={3}
          tickFormatter={(v: number) => v.toFixed(1)}
          tickLine={tl}
          axisLine={false}
          tick={top ? false : tickStyle}
        />
        {!top && <Scatter yAxisId="l" data={toPoints(grayObs[index])} dataKey="y" shape={grayDot} isAnimationActive={false} />}
        {!top && <Scatter yAxisId="l" data={toPoints(greenObs[index])} dataKey="y" shape={greenDot} isAnimationActive={false} />}
        {top && <Area yAxisId="l" data={toBand(blackBands[index])} dataKey="band" type="monotone" fill="#6e6e6e" fillOpacity={1} stroke="#000000" strokeWidth={1.4} dot={false} activeDot={false} isAnimationActive={false} />}
        {top && <Line yAxisId="l" data={toBand(blackBands[index])} dataKey="mid" type="monotone" stroke="#000000" strokeWidth={2.3} dot={false} activeDot={false} isAnimationActive={false} />}
        {top && <Area yAxisId="r" data={toBand(redBands[index])} dataKey="band" type="monotone" fill="#ff0000" fillOpacity={0.45} stroke="#ff0000" strokeWidth={1.6} dot={false} activeDot={false} isAnimationActive={false} />}
        {top && <Line yAxisId="r" data={toBand(redBands[index])} dataKey="mid" type="monotone" stroke="#ff0000" strokeWidth={2.6} dot={false} activeDot={false} isAnimationActive={false} />}
        {top && spawnDays[index].map((d) => (
          <ReferenceLine key={d} yAxisId="l" x={d} stroke="#000000" strokeWidth={2} strokeDasharray="8 7" />
        ))}
      </ComposedChart>
    </div>
  );
}

export default function App() {
  return (
    <div style={{ position: 'absolute', left: 0, top: 0, width: 1244, height: 1224, background: '#ffffff', fontFamily: FONT }}>
      {years.map((_, i) => (
        <PanelLayer key={'b' + i} index={i} top={false} />
      ))}
      {years.map((_, i) => (
        <PanelLayer key={'t' + i} index={i} top={true} />
      ))}
      <svg width={1244} height={1224} style={{ position: 'absolute', left: 0, top: 0, pointerEvents: 'none' }}>
        {years.map((yr, i) => {
          const col = i % 6;
          const row = Math.floor(i / 6);
          return (
            <g key={yr}>
              <rect x={COL_X[col]} y={ROW_Y[row]} width={PANEL_W} height={PANEL_H} fill="none" stroke="#555555" strokeWidth={1.1} />
              <text x={COL_X[col] + PANEL_W / 2} y={ROW_Y[row] - 11.5} textAnchor="middle" fontSize={17.5} fill="#1a1a1a" fontFamily={FONT}>
                {yr}
              </text>
            </g>
          );
        })}
        <text x={30} y={595} transform="rotate(-90, 30, 595)" textAnchor="middle" fontSize={23} fill="#000000" fontFamily={FONT}>
          Indice gonado-somatique
        </text>
        <text x={1214} y={595} transform="rotate(90, 1214, 595)" textAnchor="middle" fontSize={23} fill="#000000" fontFamily={FONT}>
          Pourcentage quotidien d'oeufs pondus
        </text>
        <text x={622} y={1219} textAnchor="middle" fontSize={23} fill="#000000" fontFamily={FONT}>
          Jour de l'année
        </text>
      </svg>
    </div>
  );
}
